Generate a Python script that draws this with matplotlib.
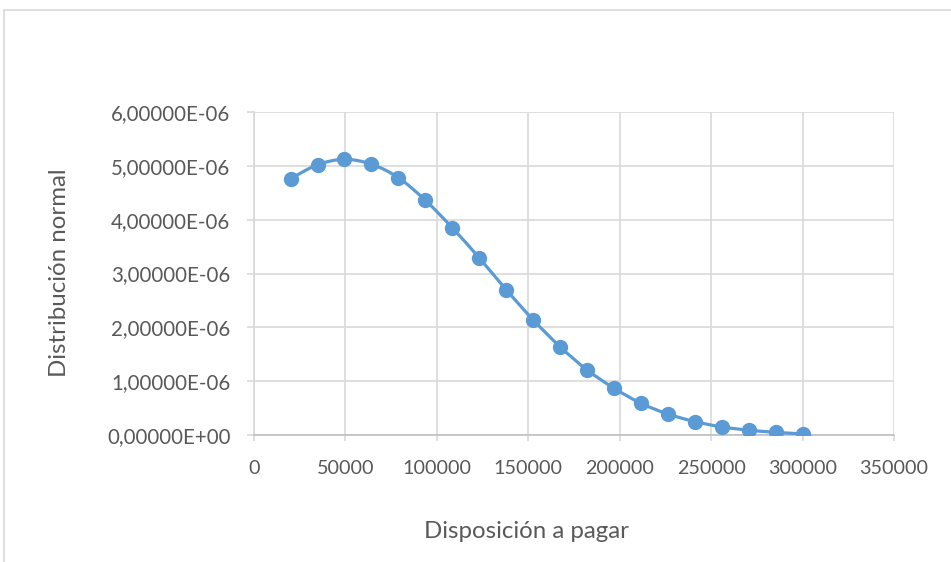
import matplotlib.pyplot as plt
import matplotlib.patches as patches
from matplotlib.path import Path
from matplotlib.ticker import FuncFormatter, MultipleLocator

plt.rcParams['font.family'] = ['Lato', 'DejaVu Sans']

# disposicion a pagar (x) and normal density (y)
disposicion = [20000, 34737, 49474, 64211, 78947, 93684, 108421, 123158, 137895, 152632,
               167368, 182105, 196842, 211579, 226316, 241053, 255789, 270526, 285263, 300000]
densidad = [4.76e-06, 5.02e-06, 5.12e-06, 5.03e-06, 4.78e-06, 4.36e-06, 3.85e-06, 3.29e-06,
            2.70e-06, 2.14e-06, 1.64e-06, 1.21e-06, 0.87e-06, 0.59e-06, 0.39e-06, 0.25e-06,
            0.15e-06, 0.09e-06, 0.05e-06, 0.02e-06]

blue = '#5b9bd5'
grid = '#d9d9d9'
txt = '#595959'


def smooth_path(xs, ys, k=1 / 6):
    # catmull-rom style bezier through the points, like excel's smoothed line
    verts = [(xs[0], ys[0])]
    codes = [Path.MOVETO]
    n = len(xs)
    for i in range(n - 1):
        x0, y0 = (xs[i - 1], ys[i - 1]) if i > 0 else (xs[i], ys[i])
        x1, y1 = xs[i], ys[i]
        x2, y2 = xs[i + 1], ys[i + 1]
        x3, y3 = (xs[i + 2], ys[i + 2]) if i + 2 < n else (x2, y2)
        verts += [(x1 + (x2 - x0) * k, y1 + (y2 - y0) * k),
                  (x2 - (x3 - x1) * k, y2 - (y3 - y1) * k),
                  (x2, y2)]
        codes += [Path.CURVE4] * 3
    return Path(verts, codes)


fig = plt.figure(figsize=(9.51, 5.62), dpi=100)
ax = fig.add_axes([254 / 951, 1 - 435 / 562, 640 / 951, 323 / 562])

# outer chart border (cut at the right and bottom like the screenshot)
fig.patches.append(patches.Rectangle((4 / 951, -0.1), 1.2, 552 / 562 + 0.1,
                                     transform=fig.transFigure, fill=False,
                                     edgecolor='#d9d9d9', lw=1.2))

ax.add_patch(patches.PathPatch(smooth_path(disposicion, densidad), fill=False,
                               edgecolor=blue, lw=2.3, zorder=3))
ax.plot(disposicion, densidad, 'o', color=blue, ms=10, zorder=4)

ax.set_xlim(0, 350000)
ax.set_ylim(0, 6e-06)
ax.xaxis.set_major_locator(MultipleLocator(50000))
ax.yaxis.set_major_locator(MultipleLocator(1e-06))
ax.xaxis.set_major_formatter(FuncFormatter(lambda v, p: '%d' % v))
ax.yaxis.set_major_formatter(FuncFormatter(
    lambda v, p: ('%.5E' % v).replace('.', ',')))

ax.grid(True, color=grid, lw=1.2)
ax.set_axisbelow(True)
for s in ['top', 'right']:
    ax.spines[s].set_visible(False)
ax.spines['left'].set_color(grid)
ax.spines['bottom'].set_color('#bfbfbf')
ax.spines['left'].set_linewidth(1.2)
ax.spines['bottom'].set_linewidth(1.2)
ax.tick_params(axis='x', colors=grid, length=4, width=1.2, labelcolor=txt,
               labelsize=14.2, pad=14)
ax.tick_params(axis='y', colors=grid, length=5, width=1.2, labelcolor=txt,
               labelsize=14.8, pad=12)

fig.text(526 / 951, 1 - 531 / 562, 'Disposición a pagar', ha='center', va='center',
         color=txt, fontsize=17.3)
fig.text(60 / 951, 1 - 273 / 562, 'Distribución normal', ha='center', va='center',
         rotation=90, color=txt, fontsize=17.3)

fig.savefig('out.png', dpi=100)
